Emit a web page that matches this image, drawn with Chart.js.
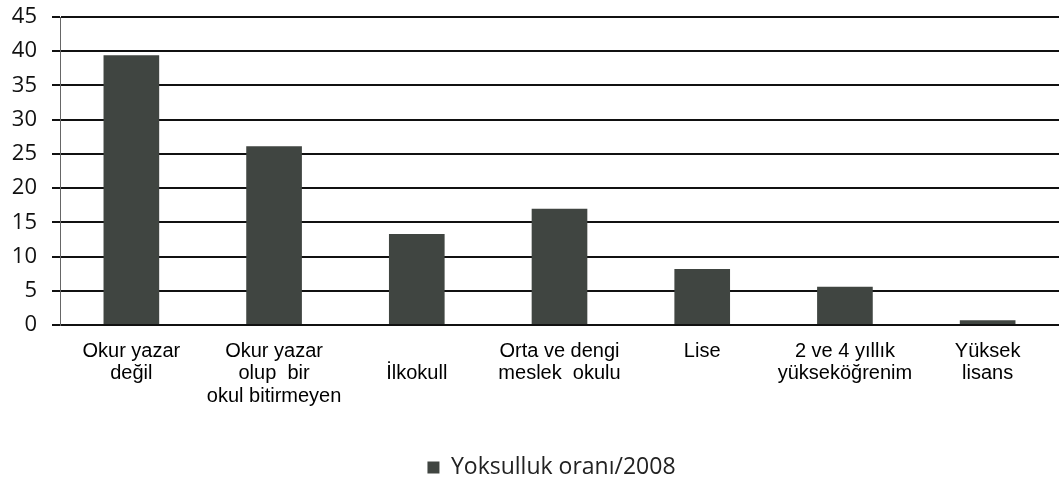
<!DOCTYPE html>
<html>
<head>
<meta charset="utf-8">
<script src="https://cdn.jsdelivr.net/npm/chart.js@4"></script>
<style>
  html, body { margin: 0; padding: 0; background: #fff; }
  #wrap { width: 1059px; height: 489px; }
</style>
</head>
<body>
<div id="wrap"><canvas id="bar"></canvas></div>
<script>
var categories = [
    ['Okur yazar', 'değil'],
    ['Okur yazar', 'olup  bir', 'okul bitirmeyen'],
    ['', 'İlkokull'],
    ['Orta ve dengi', 'meslek  okulu'],
    'Lise',
    ['2 ve 4 yıllık', 'yükseköğrenim'],
    ['Yüksek', 'lisans']
];
var seriesName = 'Yoksulluk oranı/2008';
var values = [39.4, 26.1, 13.3, 17.0, 8.2, 5.6, 0.7];
var yTicks = [0, 5, 10, 15, 20, 25, 30, 35, 40, 45];

// legend sits a little right of centre in the original
var shiftLegend = {
    id: 'shiftLegend',
    afterLayout: function (chart) {
        chart.legend.left += 22;
        chart.legend.right += 22;
    }
};

var ctx = document.getElementById('bar').getContext('2d');
var myChart = new Chart(ctx, {
    type: 'bar',
    data: {
        labels: categories,
        datasets: [{
            label: seriesName,
            data: values,
            backgroundColor: '#404541',
            borderWidth: 0,
            categoryPercentage: 1,
            barPercentage: 0.39
        }]
    },
    plugins: [shiftLegend],
    options: {
        responsive: true,
        maintainAspectRatio: false,
        animation: false,
        layout: { padding: { top: 17, right: 0, bottom: 0, left: 0 } },
        plugins: {
            tooltip: { enabled: false },
            legend: {
                position: 'bottom',
                labels: {
                    color: '#222',
                    font: { family: 'Open Sans', size: 23 },
                    boxWidth: 12,
                    boxHeight: 12,
                    padding: 10
                }
            }
        },
        scales: {
            x: {
                grid: { display: false },
                border: { display: false },
                ticks: {
                    color: '#000',
                    font: { family: 'Liberation Sans', size: 20, lineHeight: 1.13 },
                    maxRotation: 0,
                    autoSkip: false,
                    padding: 7
                },
                afterFit: function (s) { s.height = 121; s.paddingTop = 0; }
            },
            y: {
                min: 0,
                max: 45,
                afterBuildTicks: function (s) {
                    s.ticks = yTicks.map(function (v) { return { value: v }; });
                },
                grid: { color: '#111', lineWidth: 2, tickLength: 8 },
                border: { display: true, color: '#666', width: 1 },
                ticks: {
                    color: '#111',
                    font: { family: 'Open Sans', size: 22 },
                    padding: 15
                },
                afterFit: function (s) { s.width = 60; s.paddingTop = 0; s.paddingBottom = 0; }
            }
        }
    }
});
</script>
</body>
</html>
